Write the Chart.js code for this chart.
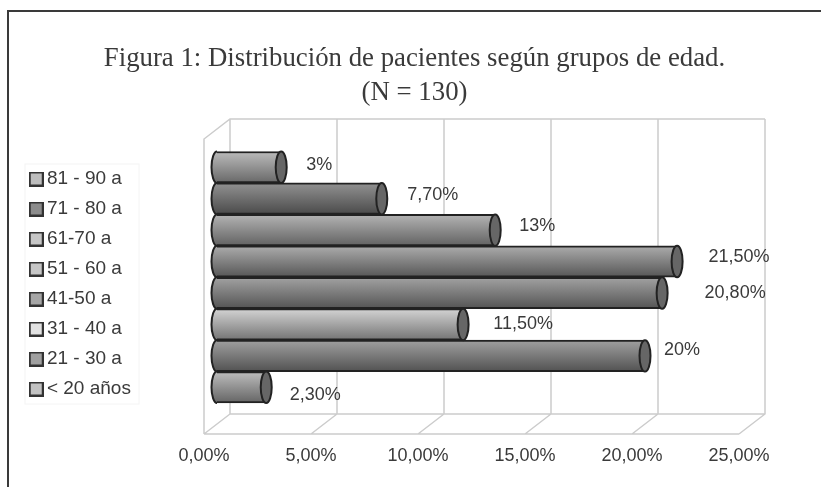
<!DOCTYPE html>
<html>
<head>
<meta charset="utf-8">
<style>
  html, body { margin: 0; padding: 0; background: #fff; }
  #wrap { position: relative; width: 821px; height: 487px; }
</style>
<script src="https://cdn.jsdelivr.net/npm/chart.js@4"></script>
</head>
<body>
<div id="wrap"><canvas id="edadChart"></canvas></div>
<script>
const titleLines = ["Figura 1: Distribución de pacientes según grupos de edad.", "(N = 130)"];
const groupLabels = ["81 - 90 a", "71 - 80 a", "61-70 a", "51 - 60 a", "41-50 a", "31 - 40 a", "21 - 30 a", "< 20 años"];
const percentValues = [3, 7.7, 13, 21.5, 20.8, 11.5, 20, 2.3];
const valueLabels = ["3%", "7,70%", "13%", "21,50%", "20,80%", "11,50%", "20%", "2,30%"];
const swatchColors = ["#bdbdbd", "#8c8c8c", "#c6c6c6", "#c6c6c6", "#a6a6a6", "#e2e2e2", "#a0a0a0", "#c2c2c2"];
const barTopColors = ["#bcbcbc", "#929292", "#b4b4b4", "#acacac", "#a2a2a2", "#d4d4d4", "#a0a0a0", "#bebebe"];
const barBottomColors = ["#686868", "#4a4a4a", "#626262", "#565656", "#545454", "#747474", "#525252", "#646464"];

// label nudges relative to the end of each cylinder, the original was placed by hand
const labelNudgeX = [38, 51, 42, 62, 73, 60, 37, 49];
const labelNudgeY = [-2, -4, -4, -5, 0, 0, -6, 8];

const DEPTH_X = 26;
const DEPTH_Y = 20;
const FLOOR_Y = 434;
const WALL_H = 295;
const CAP_RX = 5.5;
const INK = "#3a3a3a";
const WALL = "#cccccc";

function makeSwatch(color) {
  const c = document.createElement("canvas");
  c.width = 15;
  c.height = 15;
  const g = c.getContext("2d");
  g.fillStyle = color;
  g.fillRect(1, 1, 13, 13);
  g.strokeStyle = "#333";
  g.lineWidth = 2;
  g.strokeRect(1, 1, 13, 13);
  return c;
}

function gradientFor(chart, i) {
  const y = chart.scales.y;
  const half = y.height / groupLabels.length / 2;
  const mid = y.getPixelForValue(i);
  const g = chart.ctx.createLinearGradient(0, mid - half, 0, mid + half);
  g.addColorStop(0, barTopColors[i]);
  g.addColorStop(1, barBottomColors[i]);
  return g;
}

function barGradient(context) {
  if (!context.chart.chartArea || context.dataIndex === undefined) return barTopColors[0];
  return gradientFor(context.chart, context.dataIndex);
}

const framePlugin = {
  id: "frame",
  afterLayout(chart) {
    // legend block sits further in than the layout puts it
    chart.legend.left += 16;
    chart.legend.right += 16;
    chart.legend.top -= 3;
  },
  beforeDraw(chart) {
    const ctx = chart.ctx;
    ctx.save();
    ctx.strokeStyle = "#3a3a3a";
    ctx.lineWidth = 2;
    ctx.beginPath();
    ctx.moveTo(8, 487);
    ctx.lineTo(8, 11);
    ctx.lineTo(821, 11);
    ctx.stroke();
    ctx.strokeStyle = "#f4f4f4";
    ctx.lineWidth = 1;
    ctx.strokeRect(25, 164, 114, 240);
    ctx.restore();
  },
};

const wallsPlugin = {
  id: "walls",
  beforeDatasetsDraw(chart) {
    const ctx = chart.ctx;
    const x = chart.scales.x;
    const x0 = x.getPixelForValue(0);
    const x1 = x.getPixelForValue(25);
    const top = FLOOR_Y - WALL_H;
    ctx.save();
    ctx.strokeStyle = WALL;
    ctx.lineWidth = 1.5;
    ctx.beginPath();
    x.ticks.forEach((t) => {
      const px = x.getPixelForValue(t.value);
      ctx.moveTo(px, FLOOR_Y);
      ctx.lineTo(px + DEPTH_X, FLOOR_Y - DEPTH_Y);
      ctx.lineTo(px + DEPTH_X, top - DEPTH_Y);
    });
    ctx.moveTo(x0, FLOOR_Y);
    ctx.lineTo(x1, FLOOR_Y);
    ctx.moveTo(x0 + DEPTH_X, FLOOR_Y - DEPTH_Y);
    ctx.lineTo(x1 + DEPTH_X, FLOOR_Y - DEPTH_Y);
    ctx.moveTo(x0, FLOOR_Y);
    ctx.lineTo(x0, top);
    ctx.lineTo(x0 + DEPTH_X, top - DEPTH_Y);
    ctx.lineTo(x1 + DEPTH_X, top - DEPTH_Y);
    ctx.stroke();
    ctx.restore();
  },
};

// the bars sit in the middle of the 3D box, so shift them and add round ends
const cylinderPlugin = {
  id: "cylinder",
  beforeDatasetsDraw(chart) {
    const ctx = chart.ctx;
    ctx.save();
    ctx.translate(DEPTH_X / 2, -DEPTH_Y / 2);
    chart.getDatasetMeta(0).data.forEach((bar, i) => {
      ctx.beginPath();
      ctx.ellipse(bar.base, bar.y, CAP_RX, bar.height / 2, 0, Math.PI / 2, Math.PI * 1.5);
      ctx.fillStyle = gradientFor(chart, i);
      ctx.fill();
      ctx.strokeStyle = "#222";
      ctx.lineWidth = 2;
      ctx.stroke();
    });
  },
  afterDatasetsDraw(chart) {
    const ctx = chart.ctx;
    chart.getDatasetMeta(0).data.forEach((bar) => {
      ctx.beginPath();
      ctx.ellipse(bar.x, bar.y, CAP_RX, bar.height / 2, 0, 0, Math.PI * 2);
      ctx.fillStyle = "#666666";
      ctx.fill();
      ctx.strokeStyle = "#222";
      ctx.lineWidth = 2;
      ctx.stroke();
    });
    ctx.font = '18px "Liberation Sans"';
    ctx.fillStyle = INK;
    ctx.textAlign = "center";
    ctx.textBaseline = "middle";
    chart.getDatasetMeta(0).data.forEach((bar, i) => {
      ctx.fillText(valueLabels[i], bar.x + labelNudgeX[i], bar.y + labelNudgeY[i]);
    });
    ctx.restore();
  },
};

new Chart(document.getElementById("edadChart"), {
  type: "bar",
  data: {
    labels: groupLabels,
    datasets: [
      {
        data: percentValues,
        backgroundColor: barGradient,
        borderColor: "#222",
        borderWidth: 2,
        barPercentage: 1,
        categoryPercentage: 1,
        clip: false,
      },
    ],
  },
  options: {
    indexAxis: "y",
    responsive: true,
    maintainAspectRatio: false,
    animation: false,
    layout: { padding: { left: 8, right: 0, top: 0, bottom: 0 } },
    scales: {
      x: {
        min: 0,
        max: 25,
        grid: { display: false, drawTicks: false },
        border: { display: false },
        ticks: {
          stepSize: 5,
          padding: 32,
          maxRotation: 0,
          color: INK,
          font: { family: "Liberation Sans", size: 18 },
          callback: (v) => v.toFixed(2).replace(".", ",") + "%",
        },
        afterFit(scale) {
          scale.height = 74;
        },
      },
      y: {
        grid: { display: false },
        border: { display: false },
        ticks: { display: false },
        afterFit(scale) {
          scale.width = 204 - 8 - scale.chart.legend.width;
        },
      },
      spacer: {
        axis: "y",
        position: "right",
        grid: { display: false },
        border: { display: false },
        ticks: { display: false },
        afterFit(scale) {
          scale.width = 82;
        },
      },
    },
    plugins: {
      tooltip: { enabled: false },
      title: {
        display: true,
        text: titleLines,
        color: INK,
        font: { family: "Liberation Serif", size: 26.8, weight: "normal", lineHeight: 34 / 26.8 },
        padding: { top: 42, bottom: 51.5 },
      },
      legend: {
        position: "left",
        align: "start",
        fullSize: false,
        labels: {
          color: INK,
          font: { family: "Liberation Sans", size: 19 },
          padding: 11,
          boxHeight: 14,
          usePointStyle: true,
          pointStyleWidth: 2.4,
          generateLabels: () =>
            groupLabels.map((text, i) => ({
              text,
              fontColor: INK,
              pointStyle: makeSwatch(swatchColors[i]),
              index: i,
            })),
        },
      },
    },
  },
  plugins: [framePlugin, wallsPlugin, cylinderPlugin],
});
</script>
</body>
</html>
